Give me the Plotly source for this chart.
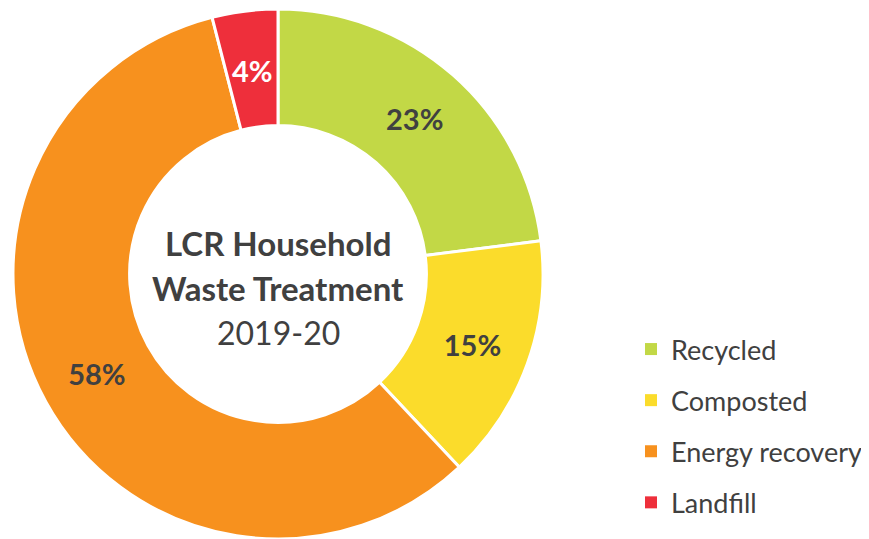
import math
import plotly.graph_objects as go

categories = ["Recycled", "Composted", "Energy recovery", "Landfill"]
values = [23, 15, 58, 4]
colors = ["#C2D846", "#FBDC2B", "#F7911E", "#EE2F3B"]
text_colors = ["#404040", "#404040", "#404040", "#FFFFFF"]
title_lines = ["<b>LCR Household</b>", "<b>Waste Treatment</b>", "2019-20"]
title_sizes = [33, 33, 32]

# page body adds an 8px margin, so the figure is sized to the visible area
W, H = 861, 531
cx, cy, r = 270, 266, 265
HOLE = 0.56
FONT = "Lato, 'Open Sans', sans-serif"

total = sum(values)
# plotly pushes labels of thin slices to the outer rim; keep those at mid-ring
positions = ["inside" if v / total > 0.06 else "none" for v in values]

fig = go.Figure()
fig.add_trace(go.Pie(
    labels=categories, values=values, sort=False, direction="clockwise",
    rotation=0, hole=HOLE,
    marker=dict(colors=colors, line=dict(color="white", width=3)),
    texttemplate="<b>%{percent:.0%}</b>", textposition=positions,
    insidetextorientation="horizontal",
    textfont=dict(family=FONT, size=29, color=text_colors),
    showlegend=False, hoverinfo="label+percent",
    domain=dict(x=[(cx - r) / W, (cx + r) / W], y=[0, 2 * r / H]),
))

# mid-ring labels for the thin slices, derived from the data
cum = 0
r_mid = r * (1 + HOLE) / 2
for v, pos, tc in zip(values, positions, text_colors):
    mid = (cum + v / 2) / total * 2 * math.pi
    cum += v
    if pos != "none":
        continue
    px = cx + r_mid * math.sin(mid)
    py = cy - r_mid * math.cos(mid) + 2
    fig.add_annotation(
        text=f"<b>{round(100 * v / total)}%</b>", x=px / W, y=1 - py / H,
        xref="paper", yref="paper", showarrow=False,
        xanchor="center", yanchor="middle",
        font=dict(family=FONT, size=29, color=tc),
    )

for name, col in zip(categories, colors):
    fig.add_trace(go.Scatter(
        x=[None], y=[None], mode="markers", name=name, legendgroup=name,
        marker=dict(symbol="square", size=12, color=col),
    ))

ys = [235, 280, 324]
for t, yy, fs in zip(title_lines, ys, title_sizes):
    fig.add_annotation(
        text=t, x=cx / W, y=1 - yy / H, xref="paper", yref="paper",
        showarrow=False, xanchor="center", yanchor="middle",
        font=dict(family=FONT, size=fs, color="#404040"),
    )

fig.update_layout(
    width=W, height=H, margin=dict(l=0, r=0, t=0, b=0),
    paper_bgcolor="white", plot_bgcolor="white",
    xaxis=dict(visible=False), yaxis=dict(visible=False),
    legend=dict(
        x=623 / W, y=1 - 317 / H, xanchor="left", yanchor="top",
        font=dict(family=FONT, size=27, color="#404040"),
        tracegroupgap=13, traceorder="grouped",
    ),
)

fig.write_html("out.html")
